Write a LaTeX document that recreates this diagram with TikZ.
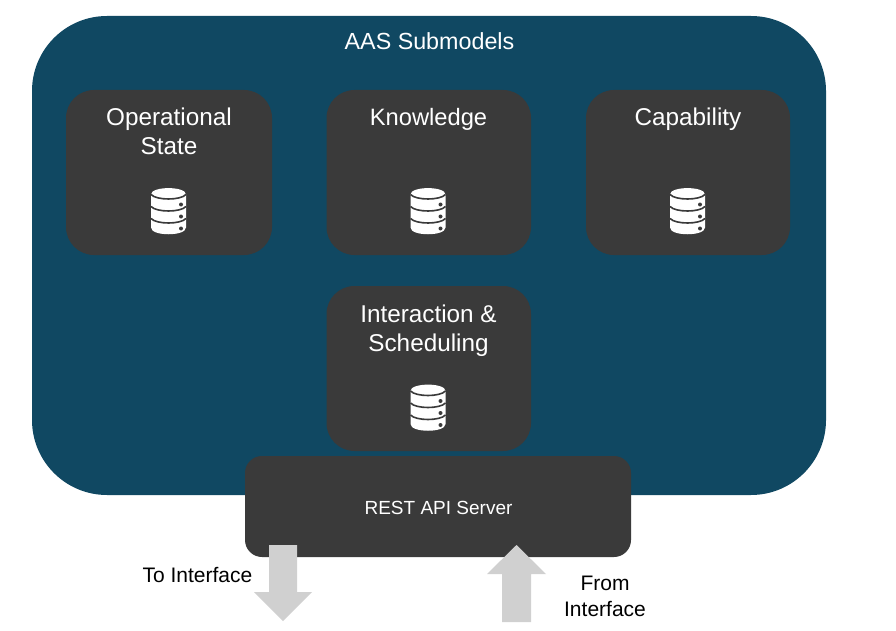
\documentclass[tikz,border=0pt]{standalone}
\usepackage{fontspec}
\setmainfont{Liberation Sans}
\definecolor{aasblue}{HTML}{104862}
\definecolor{boxgray}{HTML}{3A3A3A}
\definecolor{arrowgray}{HTML}{D0D0D0}
\tikzset{
  x=1pt,y=-1pt,
  outerbox/.style={fill=aasblue,draw=none,rounded corners=75pt},
  modulebox/.style={fill=boxgray,draw=none,rounded corners=28pt},
  serverbox/.style={fill=boxgray,draw=none,rounded corners=17pt},
  blockarrow/.style={fill=arrowgray,draw=none},
  lighttext/.style={text=white,font=\fontsize{24.3}{29}\selectfont,align=center,inner sep=0pt},
  smalllight/.style={text=white,font=\fontsize{19}{24}\selectfont,align=center,inner sep=0pt},
  darktext/.style={text=black,font=\fontsize{21}{26}\selectfont,align=center,inner sep=0pt},
  pics/dbicon/.style={code={
    \fill[white] (-17.5,-17) .. controls (-17.5,-25.5) and (17.5,-25.5) .. (17.5,-17) -- (17.5,16)
      .. controls (17.5,25) and (-17.5,25) .. (-17.5,16) -- cycle;
    \foreach \yy in {-12.5,-0.5,11.5}{
      \draw[boxgray,line width=1.6pt] (-17.5,\yy-4.5) .. controls (-12,\yy+1.5) and (12,\yy+1.5) .. (17.5,\yy-4.5);
    }
    \foreach \yy in {-7,5,17}{ \fill[boxgray] (12.5,\yy) circle (2pt); }
  }}
}
\begin{document}
\begin{tikzpicture}
\useasboundingbox (0,0) rectangle (896,631);
\fill[outerbox] (32,16) rectangle (826,495);
\fill[modulebox] (66,90) rectangle (272,255);
\fill[modulebox] (326.5,90) rectangle (531,255);
\fill[modulebox] (586,90) rectangle (790,255);
\fill[modulebox] (326.5,286) rectangle (531,451);
\fill[serverbox] (245,456) rectangle (631,557);
\node[lighttext,font=\fontsize{23.3}{24}\selectfont] (title) at (429.5,41) {AAS Submodels};
\node[lighttext] (op) at (169,131) {Operational\\State};
\node[lighttext,font=\fontsize{23.7}{29}\selectfont] (kn) at (428.5,119) {Knowledge};
\node[lighttext] (cap) at (688,119) {Capability};
\node[lighttext] (inter) at (428.5,331) {Interaction \&\\Scheduling};
\node[smalllight] (rest) at (438.5,507.5) {REST API Server};
\pic at (168.5,211.5) {dbicon};
\pic at (428,211.5) {dbicon};
\pic at (687.5,211.5) {dbicon};
\pic at (428,408) {dbicon};
\fill[blockarrow] (269,545) -- (297,545) -- (297,592) -- (312,592) -- (283,621) -- (254,592) -- (269,592) -- cycle;
\fill[blockarrow] (502,622) -- (531,622) -- (531,574) -- (546,574) -- (516.5,545) -- (487,574) -- (502,574) -- cycle;
\node[darktext] (to) at (197.5,575) {To Interface};
\node[darktext] (from) at (605,596.5) {From\\Interface};
\end{tikzpicture}
\end{document}
